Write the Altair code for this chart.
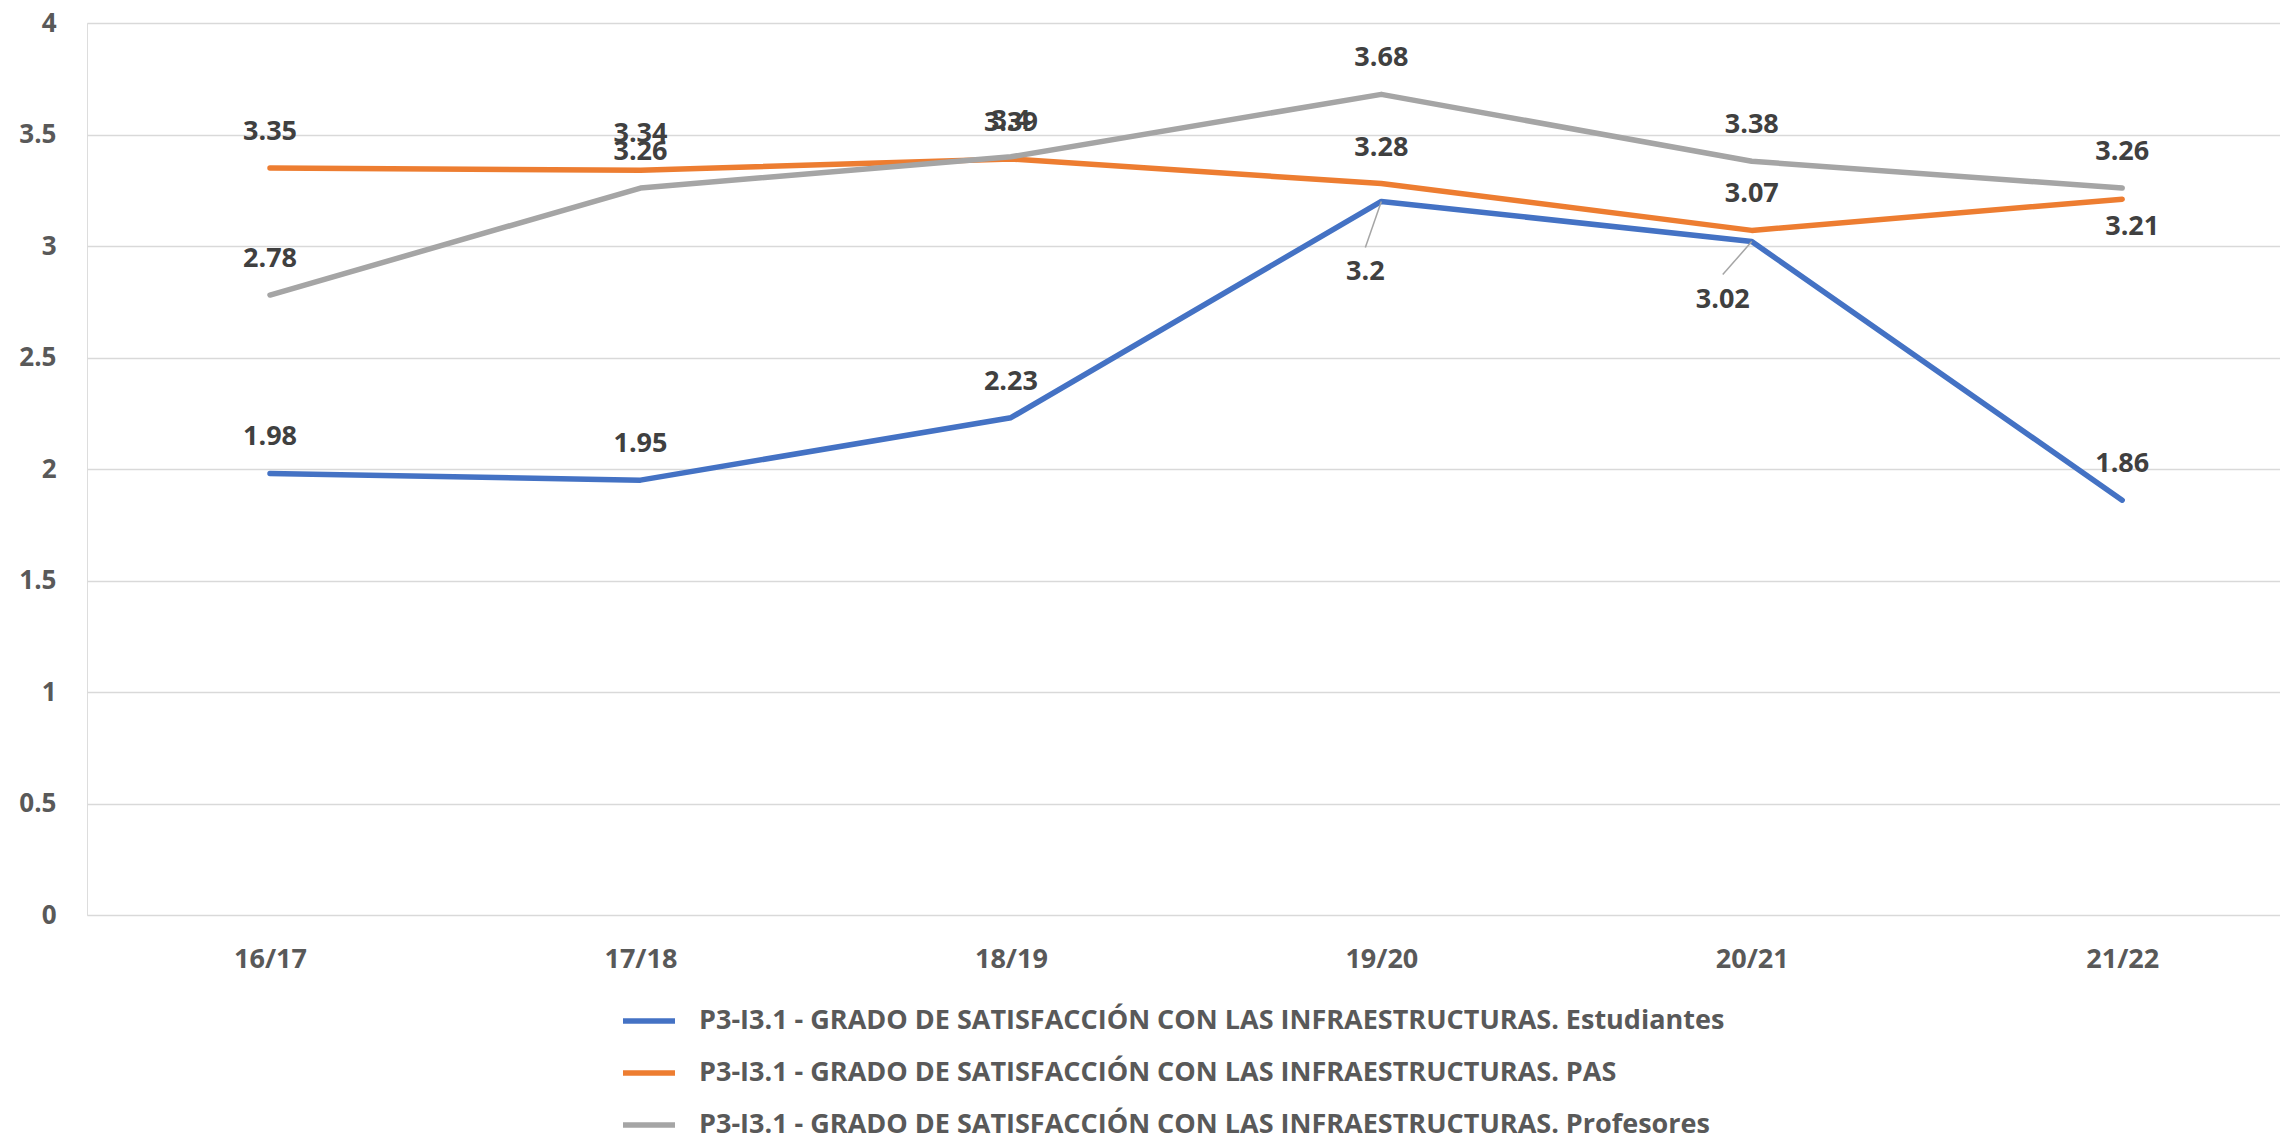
import altair as alt
import pandas as pd

seasons = ["16/17", "17/18", "18/19", "19/20", "20/21", "21/22"]
series_names = [
    "P3-I3.1 - GRADO DE SATISFACCIÓN CON LAS INFRAESTRUCTURAS. Estudiantes",
    "P3-I3.1 - GRADO DE SATISFACCIÓN CON LAS INFRAESTRUCTURAS. PAS",
    "P3-I3.1 - GRADO DE SATISFACCIÓN CON LAS INFRAESTRUCTURAS. Profesores",
]
estudiantes = [1.98, 1.95, 2.23, 3.2, 3.02, 1.86]
pas = [3.35, 3.34, 3.39, 3.28, 3.07, 3.21]
profesores = [2.78, 3.26, 3.4, 3.68, 3.38, 3.26]
colors = ["#4472C4", "#ED7D31", "#A5A5A5"]

rows = []
for name, vals in zip(series_names, [estudiantes, pas, profesores]):
    for s, v in zip(seasons, vals):
        rows.append({"serie": name, "curso": s, "valor": v})
df = pd.DataFrame(rows)

FONT = "Open Sans"

x = alt.X("curso:N", sort=seasons, title=None,
          scale=alt.Scale(type="point", padding=0.46, align=0.537),
          axis=alt.Axis(labelAngle=0, ticks=False, domain=False, grid=False,
                        labelFont=FONT, labelFontSize=27, labelFontWeight="bold",
                        labelColor="#595959", labelPadding=44, labelBaseline="middle"))
y = alt.Y("valor:Q", title=None,
          scale=alt.Scale(domain=[0, 4], nice=False, zero=True),
          axis=alt.Axis(values=[0, 0.5, 1, 1.5, 2, 2.5, 3, 3.5, 4], format="~g",
                        ticks=False, domain=False, grid=True, gridColor="#D9D9D9",
                        gridWidth=1.5, labelFont=FONT, labelFontSize=26,
                        labelFontWeight="bold", labelColor="#595959", labelPadding=31))

color = alt.Color("serie:N", sort=series_names,
                  scale=alt.Scale(domain=series_names, range=colors),
                  legend=alt.Legend(title=None, orient="none", legendX=533, legendY=969,
                                    direction="vertical", symbolType="stroke",
                                    symbolSize=2704, symbolStrokeWidth=5.5,
                                    labelFont=FONT, labelFontSize=27, labelFontWeight="bold",
                                    labelColor="#595959", labelLimit=0, rowPadding=10,
                                    labelOffset=21, padding=0, offset=0))

base = alt.Chart(df)

lines = base.mark_line(strokeWidth=5.5, strokeCap="round", strokeJoin="round").encode(
    x=x, y=y, color=color)

special = (
    "(datum.curso == '19/20' && indexof(datum.serie, 'Estudiantes') >= 0) || "
    "(datum.curso == '20/21' && indexof(datum.serie, 'Estudiantes') >= 0) || "
    "(datum.curso == '21/22' && indexof(datum.serie, 'PAS') >= 0)"
)

txt = dict(font=FONT, fontSize=27, fontWeight="bold", color="#404040", baseline="middle")

labels_above = base.transform_filter("!(" + special + ")").mark_text(dy=-36, **txt).encode(
    x=x, y=y, text=alt.Text("valor:Q", format="~g"))

def one(curso, key, dx, dy):
    return base.transform_filter(
        f"datum.curso == '{curso}' && indexof(datum.serie, '{key}') >= 0"
    ).mark_text(dx=dx, dy=dy, **txt).encode(x=x, y=y, text=alt.Text("valor:Q", format="~g"))

def leader(curso, key, ox, oy):
    return base.transform_filter(
        f"datum.curso == '{curso}' && indexof(datum.serie, '{key}') >= 0"
    ).mark_rule(color="#A5A5A5", strokeWidth=1.5, x2Offset=ox, y2Offset=oy).encode(
        x=x, y=y, x2="curso:N", y2="valor:Q")

chart = alt.layer(
    lines,
    leader("19/20", "Estudiantes", -16, 46),
    leader("20/21", "Estudiantes", -29, 33),
    labels_above,
    one("19/20", "Estudiantes", -16, 71),
    one("20/21", "Estudiantes", -29, 58),
    one("21/22", "PAS", 10, 28),
).properties(
    width=2193, height=892,
    autosize=alt.AutoSizeParams(type="none"),
    padding={"left": 79, "top": 15, "right": 0, "bottom": 219},
).configure_view(stroke=None).configure(background="white")

chart.save("out.html", embed_options={"renderer": "svg", "actions": False})
